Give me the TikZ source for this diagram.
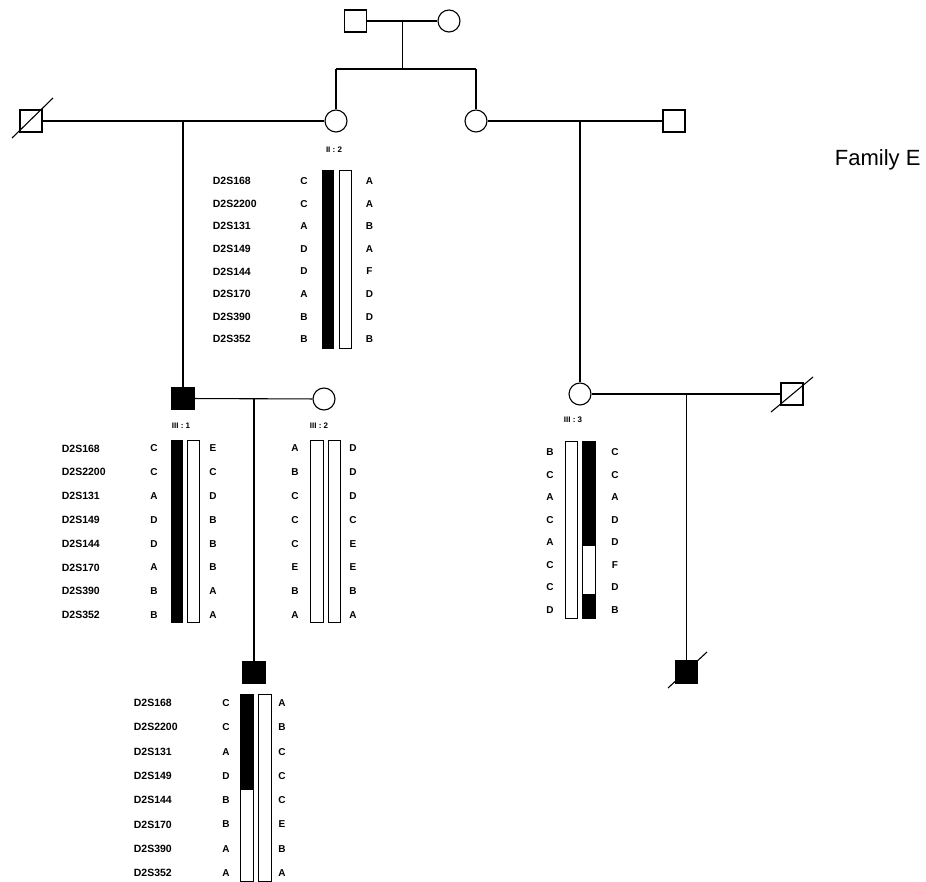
\documentclass[tikz,border=0pt]{standalone}
\usepackage{fontspec}
\setmainfont{Liberation Sans}
\usetikzlibrary{calc}
\def\deadmark(#1)(#2,#3)(#4,#5){\draw[line width=1.1pt] ($(#1)+(#2,#3)$) -- ($(#1)+(#4,#5)$);}

\begin{document}
\begin{tikzpicture}[x=1pt,y=-1pt,line width=1.1pt,
		male/.style={draw,line width=1.1pt,minimum size=22pt,inner sep=0pt},
		female/.style={male,circle},
		aff/.style={fill=black},
		marker/.style={anchor=west,font=\fontsize{10.5}{12}\selectfont\bfseries},
		allele/.style={font=\fontsize{10}{12}\selectfont\bfseries},
		tag/.style={font=\fontsize{8}{9}\selectfont\bfseries},
		bar/.style={draw,line width=0.9pt}]
			%%%%% START %%%%%
			\useasboundingbox (0,0) rectangle (926,882);
			
			% generation I
			\node[male] (I1) at (355.5,21) {};
			\node[female] (I2) at (449,21) {};
			\draw (I1) -- (I2);
			\coordinate (c1) at ($(I1)!0.5!(I2)$);
			\coordinate (s1) at (c1 |- 0,69);
			\draw (c1) -- (s1);
			
			% generation II
			\node[male] (II1) at (31,121) {};
			\node[female] (II2) at (336,121) {};
			\node[female] (II3) at (476,121) {};
			\node[male] (II4) at (674,121) {};
			\deadmark(II1)(-19,17)(22,-23)
			\draw (II2 |- s1) -- (II3 |- s1);
			\draw (II2 |- s1) -- (II2);
			\draw (II3 |- s1) -- (II3);
			\draw (II1) -- (II2);
			\draw (II3) -- (II4);
			\coordinate (m1) at (183,121);
			\coordinate (m2) at (580,121);
			
			\node[font=\fontsize{22}{25}\selectfont,anchor=west] (fam) at (831,160) {Family E};
			
			% generation III
			\node[male,aff] (III1) at (183,398.5) {};
			\node[female] (III2) at (324,399) {};
			\node[female] (III3) at (580,394) {};
			\node[male] (III4) at (792,394) {};
			\deadmark(III4)(-21,18)(21,-17)
			\draw (m1) -- (III1);
			\draw (m2) -- (III3);
			\draw (III1) -- (III2);
			\draw (III3) -- (III4);
			\coordinate (m3) at (254,399);
			\coordinate (m4) at (686.5,394);
			
			% generation IV
			\node[male,aff] (IV1) at (254,672.5) {};
			\node[male,aff] (IV2) at (686.5,672) {};
			\deadmark(IV2)(-18.5,16)(20.5,-20)
			\draw (m3) -- (IV1);
			\draw (m4) -- (IV2);
			
			% haplotypes II:2
			\node[tag] (t22) at (334,150) {II : 2};
			\draw[bar,fill=black] (322,170) rectangle (333,348);
			\draw[bar] (339,170) rectangle (351.5,348);
			\foreach \m/\l/\r [count=\i from 0] in {D2S168/C/A,D2S2200/C/A,D2S131/A/B,D2S149/D/A,D2S144/D/F,D2S170/A/D,D2S390/B/D,D2S352/B/B} {
				\node[marker] (IIm\i) at (209,{181+22.6*\i}) {\m};
				\node[allele] (IIl\i) at (304,{181+22.6*\i}) {\l};
				\node[allele] (IIr\i) at (369.5,{181+22.6*\i}) {\r};
			}
			
			% haplotypes III:1 and III:2
			\node[tag] (t31) at (181,426) {III : 1};
			\draw[bar,fill=black] (171,440) rectangle (182,622);
			\draw[bar] (187,440) rectangle (199,622);
			\foreach \m/\l/\r [count=\i from 0] in {D2S168/C/E,D2S2200/C/C,D2S131/A/D,D2S149/D/B,D2S144/D/B,D2S170/A/B,D2S390/B/A,D2S352/B/A} {
				\node[marker] (IIIm\i) at (58,{448.5+23.8*\i}) {\m};
				\node[allele] (IIIl\i) at (154,{448.5+23.8*\i}) {\l};
				\node[allele] (IIIr\i) at (213,{448.5+23.8*\i}) {\r};
			}
			\node[tag] (t32) at (319,426) {III : 2};
			\draw[bar] (310,440) rectangle (323,622);
			\draw[bar] (328,440) rectangle (340,622);
			\foreach \l/\r [count=\i from 0] in {A/D,B/D,C/D,C/C,C/E,E/E,B/B,A/A} {
				\node[allele] (IIIsl\i) at (295,{448.5+23.8*\i}) {\l};
				\node[allele] (IIIsr\i) at (353,{448.5+23.8*\i}) {\r};
			}
			
			% haplotypes III:3
			\node[tag] (t33) at (573,420) {III : 3};
			\draw[bar] (565.5,441) rectangle (577.5,618);
			\fill (582.5,441) rectangle (595,545);
			\fill (582.5,594) rectangle (595,618);
			\draw[bar] (582.5,441) rectangle (595,618);
			\draw[line width=0.9pt] (582.5,545) -- (595,545);
			\foreach \l/\r [count=\i from 0] in {B/C,C/C,A/A,C/D,A/D,C/F,C/D,D/B} {
				\node[allele] (IIIkl\i) at (550,{452.5+22.5*\i}) {\l};
				\node[allele] (IIIkr\i) at (615,{452.5+22.5*\i}) {\r};
			}
			
			% haplotypes IV
			\fill (240,694) rectangle (253,789);
			\draw[bar] (240,694) rectangle (253,881);
			\draw[line width=0.9pt] (240,789) -- (253,789);
			\draw[bar] (258,694) rectangle (271,881);
			\foreach \m/\l/\r [count=\i from 0] in {D2S168/C/A,D2S2200/C/B,D2S131/A/C,D2S149/D/C,D2S144/B/C,D2S170/B/E,D2S390/A/B,D2S352/A/A} {
				\node[marker] (IVm\i) at (130,{703+24.3*\i}) {\m};
				\node[allele] (IVl\i) at (226,{703+24.3*\i}) {\l};
				\node[allele] (IVr\i) at (282,{703+24.3*\i}) {\r};
			}
			
			%%%%% END %%%%%
		\end{tikzpicture}
\end{document}
